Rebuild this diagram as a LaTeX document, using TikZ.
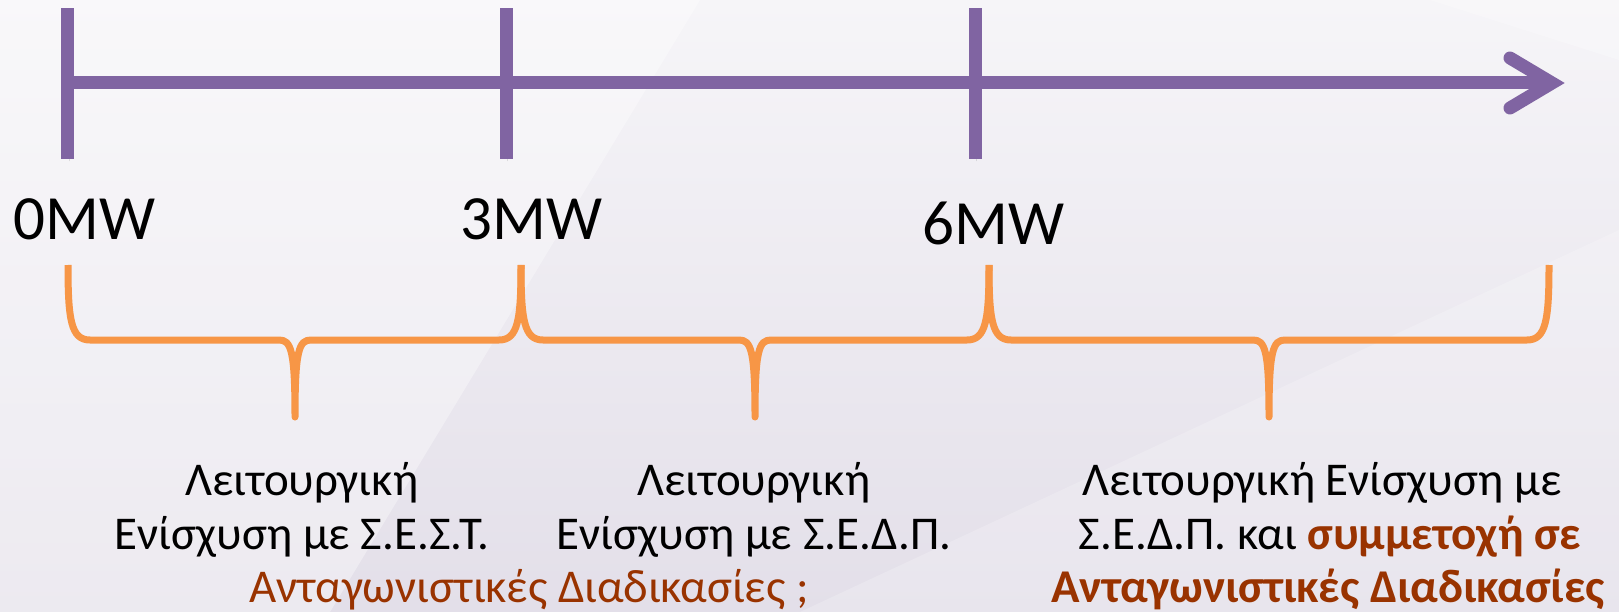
\documentclass[tikz,border=0pt]{standalone}
\usepackage{fontspec}
\setmainfont{Carlito}
\definecolor{axispurple}{HTML}{8064A2}
\definecolor{braceorange}{HTML}{F79646}
\definecolor{hlred}{HTML}{993300}
\definecolor{bgtop}{HTML}{F6F5F8}
\definecolor{bgbot}{HTML}{E3DFE9}
\tikzset{
  shadowed/.style={preaction={draw=black!60,opacity=0.18,transform canvas={shift={(1.5pt,-2.5pt)}}}},
  axisline/.style={draw=axispurple,line width=13pt,shadowed},
  tickline/.style={draw=axispurple,line width=13pt,shadowed},
  chevron/.style={draw=axispurple,line width=13pt,line cap=round,line join=miter,shadowed},
  bracepath/.style={draw=braceorange,line width=7pt,line join=round,shadowed},
  mwlabel/.style={font=\fontsize{63}{70}\selectfont,anchor=base west,inner sep=0pt},
  txt/.style={font=\fontsize{47}{56}\selectfont,anchor=base,inner sep=0pt}
}
\begin{document}
\begin{tikzpicture}[x=1pt,y=-1pt]
\useasboundingbox (0,0) rectangle (1619,612);
% background
\shade[top color=bgtop,bottom color=bgbot] (0,0) rectangle (1619,612);
\fill[white,opacity=0.35] (0,0) -- (700,0) -- (330,612) -- (0,612) -- cycle;
\fill[white,opacity=0.25] (1430,0) -- (1619,0) -- (1619,60) -- cycle;
\fill[white,opacity=0.2] (1619,230) -- (1619,612) -- (800,612) -- cycle;
% coordinates
\coordinate (t0) at (67.5,83);
\coordinate (t3) at (506,83);
\coordinate (t6) at (975,83);
\coordinate (tip) at (1552,83);
\coordinate (armU) at (1510,58);
\coordinate (armD) at (1510,108);
% axis
\draw[axisline] (t0) -- (tip);
\draw[chevron] (armU) -- (tip) -- (armD);
\draw[tickline] ([yshift=-76]t0) -- ([yshift=75]t0);
\draw[tickline] ([yshift=-76]t3) -- ([yshift=75]t3);
\draw[tickline] ([yshift=-76]t6) -- ([yshift=75]t6);
% labels
\node[mwlabel] (l0) at (13,240) {0MW};
\node[mwlabel] (l3) at (460,240) {3MW};
\node[mwlabel] (l6) at (922,245) {6MW};
% braces
\newcommand{\mybrace}[3]{%
  \draw[bracepath] (#1,265) .. controls (#1,320) and (#1+3,340) .. (#1+22,340)
    -- (#2-16,340) .. controls (#2-4,340) and (#2,350) .. (#2,417)
    .. controls (#2,350) and (#2+4,340) .. (#2+16,340)
    -- (#3-22,340) .. controls (#3-3,340) and (#3,320) .. (#3,265);}
\mybrace{68}{295}{521}
\mybrace{521}{755}{989}
\mybrace{989}{1269}{1549}
% texts
\node[txt] (a1) at (302,495) {Λειτουργική};
\node[txt] (a2) at (302,549) {Ενίσχυση με Σ.Ε.Σ.Τ.};
\node[txt,text=hlred] (a3) at (529,602) {Ανταγωνιστικές Διαδικασίες ;};
\node[txt] (b1t) at (754,495) {Λειτουργική};
\node[txt] (b2t) at (754,549) {Ενίσχυση με Σ.Ε.Δ.Π.};
\node[txt] (c1) at (1322,495) {Λειτουργική Ενίσχυση με};
\node[txt] (c2) at (1330,549) {Σ.Ε.Δ.Π. και \textbf{\color{hlred}συμμετοχή σε}};
\node[txt,text=hlred,font=\fontsize{47}{56}\selectfont\bfseries] (c3) at (1328,602) {Ανταγωνιστικές Διαδικασίες};
\end{tikzpicture}
\end{document}
